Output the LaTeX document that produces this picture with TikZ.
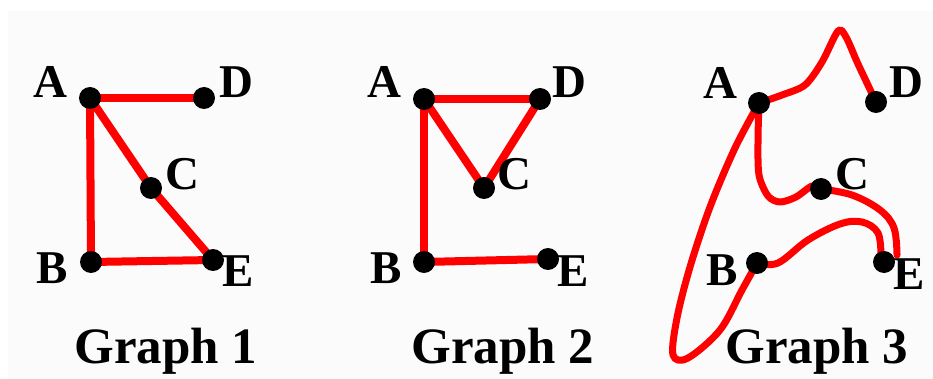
\documentclass[tikz,border=0pt]{standalone}
\usepackage{fontspec}
\setmainfont{Liberation Serif}
\begin{document}
\begin{tikzpicture}[x=1pt,y=-1pt,
  edge/.style={draw=red,line width=8pt,line cap=round,line join=round},
  cedge/.style={draw=red,line width=7pt,line cap=round,line join=round},
  dot/.style={circle,fill=black,minimum size=22pt,inner sep=0pt},
  lbl/.style={font=\bfseries\fontsize{47}{50}\selectfont,inner sep=0pt},
  title/.style={font=\bfseries\fontsize{51}{55}\selectfont,inner sep=0pt,anchor=base}]
\useasboundingbox (0,0) rectangle (933,379);
\fill[white] (0,0) rectangle (933,379);
\fill[black!1.5] (8,11) rectangle (933,379);

% ---------- Graph 1 ----------
\coordinate (A1) at (90,98);
\coordinate (D1) at (204,98);
\coordinate (C1) at (151,188);
\coordinate (B1) at (91,262);
\coordinate (E1) at (213,260);
\draw[edge] (A1) -- (D1);
\draw[edge] (A1) -- (B1);
\draw[edge] (A1) -- (C1) -- (E1);
\draw[edge] (B1) -- (E1);
\foreach \n in {A1,D1,C1,B1,E1} \node[dot] (d\n) at (\n) {};
\node[lbl] (lA1) at (50,82) {A};
\node[lbl] (lD1) at (236,82) {D};
\node[lbl] (lC1) at (182,174) {C};
\node[lbl] (lB1) at (52,268) {B};
\node[lbl] (lE1) at (238,271) {E};
\node[title] (t1) at (166,363) {Graph 1};

% ---------- Graph 2 ----------
\coordinate (A2) at (424,99);
\coordinate (D2) at (540,99);
\coordinate (C2) at (484,188);
\coordinate (B2) at (424,262);
\coordinate (E2) at (548,259);
\draw[edge] (A2) -- (D2);
\draw[edge] (A2) -- (B2);
\draw[edge] (A2) -- (C2) -- (D2);
\draw[edge] (B2) -- (E2);
\foreach \n in {A2,D2,C2,B2,E2} \node[dot] (d\n) at (\n) {};
\node[lbl] (lA2) at (384,82) {A};
\node[lbl] (lD2) at (569,82) {D};
\node[lbl] (lC2) at (514,174) {C};
\node[lbl] (lB2) at (386,268) {B};
\node[lbl] (lE2) at (573,271) {E};
\node[title] (t2) at (503,363) {Graph 2};

% ---------- Graph 3 ----------
\coordinate (A3) at (759,103);
\coordinate (D3) at (876,102);
\coordinate (C3) at (821,189);
\coordinate (B3) at (757,263);
\coordinate (E3) at (884,262);
\draw[cedge] plot[smooth,tension=0.5] coordinates {(A3) (782,95) (805,85) (822,62) (838,31) (846,37) (858,64) (D3)};
\draw[cedge] plot[smooth,tension=0.5] coordinates {(A3) (758,140) (759,175) (768,196) (780,202) (796,197) (812,186) (C3)};
\draw[cedge] plot[smooth,tension=0.6] coordinates {(C3) (852,195) (880,210) (894,228) (897,255)};
\draw[cedge] plot[smooth,tension=0.6] coordinates {(B3) (778,263) (808,240) (840,224) (862,222) (878,233) (881,257)};
\draw[cedge] plot[smooth,tension=0.55] coordinates {(A3) (735,148) (710,207) (690,267) (677,318) (673,355) (688,358) (720,330) (742,290) (B3)};
\foreach \n in {A3,D3,C3,B3,E3} \node[dot] (d\n) at (\n) {};
\node[lbl] (lA3) at (720,83) {A};
\node[lbl] (lD3) at (906,82) {D};
\node[lbl] (lC3) at (852,174) {C};
\node[lbl] (lB3) at (722,270) {B};
\node[lbl] (lE3) at (909,274) {E};
\node[title] (t3) at (817,363) {Graph 3};
\end{tikzpicture}
\end{document}
